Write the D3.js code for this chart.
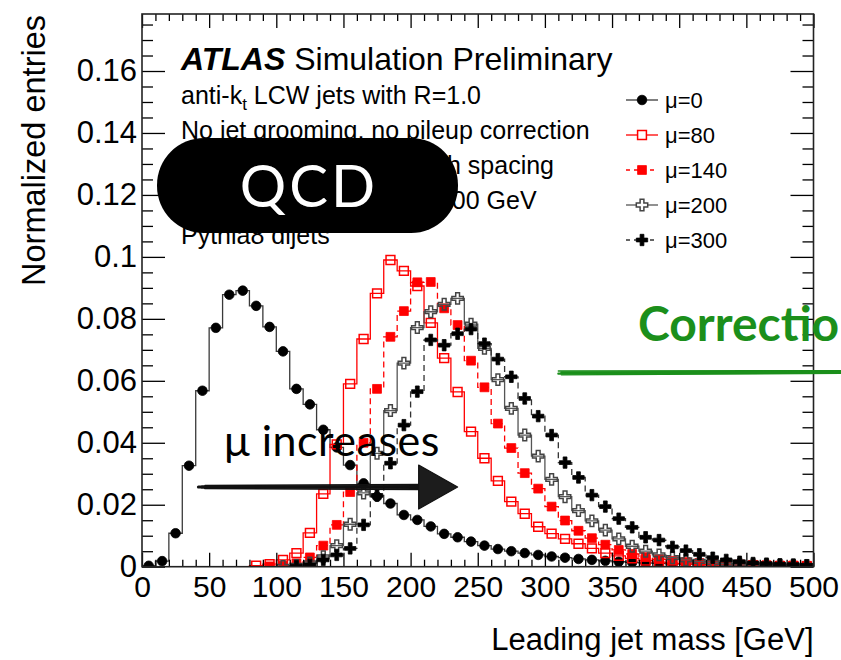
<!DOCTYPE html>
<html>
<head>
<meta charset="utf-8">
<script src="https://cdn.jsdelivr.net/npm/d3@7"></script>
<style>
  html, body { margin: 0; padding: 0; background: #fff; }
  svg { display: block; }
</style>
</head>
<body>
<svg id="chart" width="841" height="660"></svg>
<script>
// Leading jet mass, 10 GeV bins from 0 to 500 GeV (lower edges)
const binWidth = 10;
const binLowEdges = d3.range(0, 500, binWidth);

// Normalized entries per bin for each pileup condition
const mu0 = [0.0003, 0.0018, 0.0108, 0.0326, 0.0568, 0.0771, 0.0878, 0.0891, 0.0842, 0.0774,
             0.0695, 0.0574, 0.0524, 0.0442, 0.0385, 0.0328, 0.0269, 0.0226, 0.0204, 0.0167,
             0.0151, 0.0130, 0.0106, 0.0095, 0.0081, 0.0068, 0.0057, 0.0050, 0.0044, 0.0038,
             0.0033, 0.0029, 0.0025, 0.0022, 0.0019, 0.0016, 0.0014, 0.0012, 0.0011, 0.0009,
             0.0008, 0.0007, 0.0006, 0.0005, 0.0005, 0.0004, 0.0004, 0.0003, 0.0003, 0.0003];
const mu80 = [0, 0, 0, 0, 0, 0, 0, 0, 0.0003, 0.0008,
              0.0022, 0.0044, 0.0109, 0.0235, 0.0395, 0.0590, 0.0735, 0.0882, 0.0990, 0.0955,
              0.0906, 0.0787, 0.0673, 0.0564, 0.0436, 0.0350, 0.0277, 0.0210, 0.0171, 0.0129,
              0.0107, 0.0090, 0.0074, 0.0059, 0.0044, 0.0035, 0.0027, 0.0020, 0.0015, 0.0011,
              0.0009, 0.0007, 0.0005, 0.0004, 0.0003, 0.0003, 0.0002, 0.0002, 0.0002, 0.0001];
const mu140 = [0, 0, 0, 0, 0, 0, 0, 0, 0, 0.0001,
               0.0003, 0.0011, 0.0030, 0.0068, 0.0135, 0.0241, 0.0400, 0.0574, 0.0742, 0.0825,
               0.0918, 0.0919, 0.0834, 0.0780, 0.0665, 0.0579, 0.0462, 0.0383, 0.0302, 0.0252,
               0.0194, 0.0149, 0.0116, 0.0092, 0.0071, 0.0054, 0.0041, 0.0031, 0.0024, 0.0019,
               0.0015, 0.0012, 0.0010, 0.0008, 0.0007, 0.0006, 0.0005, 0.0004, 0.0004, 0.0003];
const mu200 = [0, 0, 0, 0, 0, 0, 0, 0, 0, 0,
               0.0001, 0.0004, 0.0012, 0.0032, 0.0068, 0.0137, 0.0238, 0.0366, 0.0504, 0.0657,
               0.0772, 0.0823, 0.0847, 0.0866, 0.0783, 0.0705, 0.0604, 0.0511, 0.0425, 0.0357,
               0.0282, 0.0226, 0.0181, 0.0148, 0.0118, 0.0090, 0.0066, 0.0050, 0.0038, 0.0029,
               0.0022, 0.0017, 0.0013, 0.0010, 0.0008, 0.0006, 0.0005, 0.0004, 0.0003, 0.0003];
const mu300 = [0, 0, 0, 0, 0, 0, 0, 0, 0, 0,
               0, 0.0002, 0.0006, 0.0022, 0.0038, 0.0059, 0.0135, 0.0230, 0.0334, 0.0457,
               0.0565, 0.0732, 0.0715, 0.0752, 0.0767, 0.0720, 0.0670, 0.0613, 0.0543, 0.0486,
               0.0425, 0.0336, 0.0288, 0.0231, 0.0194, 0.0155, 0.0127, 0.0095, 0.0086, 0.0064,
               0.0052, 0.0040, 0.0029, 0.0022, 0.0016, 0.0012, 0.0010, 0.0008, 0.0007, 0.0005];

const seriesLabels = ["μ=0", "μ=80", "μ=140", "μ=200", "μ=300"];

// Axis ticks and labels
const xMajorTicks = d3.range(0, 501, 50);
const xTickLabels = ["0", "50", "100", "150", "200", "250", "300", "350", "400", "450", "500"];
const yMajorTicks = [0, 0.02, 0.04, 0.06, 0.08, 0.10, 0.12, 0.14, 0.16];
const yTickLabels = ["0", "0.02", "0.04", "0.06", "0.08", "0.1", "0.12", "0.14", "0.16"];

const infoLines = [
  "anti-k|t| LCW jets with R=1.0",
  "No jet grooming, no pileup correction",
  "√s = 14 TeV, 25 ns bunch spacing",
  "|η| < 2, leading jet p_T > 300 GeV",
  "Pythia8 dijets"
];

// ---------------------------------------------------------------------
const svg = d3.select("#chart");
const frame = { left: 142, right: 813.5, top: 14, bottom: 566.7 };

const x = d3.scaleLinear().domain([0, 500]).range([frame.left, frame.right]);
const y = d3.scaleLinear().domain([0, 0.1784]).range([frame.bottom, frame.top]);

const AX_FONT = "'Liberation Sans', Arial, Helvetica, sans-serif";
const SLIDE_FONT = "Lato, 'Open Sans', sans-serif";

svg.append("rect").attr("width", 841).attr("height", 660).attr("fill", "#fff");

svg.append("clipPath").attr("id", "plotClip")
  .append("rect")
  .attr("x", frame.left).attr("y", frame.top)
  .attr("width", frame.right - frame.left).attr("height", frame.bottom - frame.top);

// ---------------- header text inside the frame ----------------
const header = svg.append("g").attr("font-family", AX_FONT).attr("fill", "#000");
const atlas = header.append("text").attr("x", 181).attr("y", 70).attr("font-size", 32);
atlas.append("tspan").attr("font-weight", "bold").attr("font-style", "italic").text("ATLAS");
atlas.append("tspan").text(" Simulation Preliminary");

const lineBaselines = [104, 139, 174, 209, 244];
infoLines.forEach((s, i) => {
  const t = header.append("text").attr("x", 181).attr("y", lineBaselines[i]).attr("font-size", 25);
  if (i === 0) {
    const parts = s.split("|");
    t.append("tspan").text(parts[0]);
    t.append("tspan").attr("font-size", 17).attr("dy", 6).text(parts[1]);
    t.append("tspan").attr("dy", -6).text(parts[2]);
  } else if (i === 3) {
    const parts = s.split("p_T");
    t.append("tspan").text(parts[0] + "p");
    t.append("tspan").attr("font-size", 17).attr("dy", 6).text("T");
    t.append("tspan").attr("dy", -6).text(parts[1]);
  } else {
    t.text(s);
  }
});

// ---------------- histograms ----------------
const series = [
  { label: seriesLabels[0], values: mu0,   color: "#000", line: "#3a3a3a", dash: null,  marker: "circle",  filled: true },
  { label: seriesLabels[1], values: mu80,  color: "#ff0000", line: "#ff0000", dash: null, marker: "square", filled: false },
  { label: seriesLabels[2], values: mu140, color: "#ff0000", line: "#ff0000", dash: "6,4", marker: "square", filled: true },
  { label: seriesLabels[3], values: mu200, color: "#444", line: "#555", dash: null, marker: "cross", filled: false },
  { label: seriesLabels[4], values: mu300, color: "#000", line: "#333", dash: "6,4", marker: "cross", filled: true }
];

const symbolFor = m => m === "circle" ? d3.symbol(d3.symbolCircle, 72)
                    : m === "square" ? d3.symbol(d3.symbolSquare, 78)
                    : d3.symbol(d3.symbolCross, 72);

const plot = svg.append("g").attr("clip-path", "url(#plotClip)");

series.forEach(s => {
  const first = s.values.findIndex(v => v > 0);
  const pts = [[binLowEdges[first], 0]];
  for (let i = first; i < s.values.length; i++) {
    pts.push([binLowEdges[i], s.values[i]]);
    pts.push([binLowEdges[i] + binWidth, s.values[i]]);
  }
  plot.append("path")
    .attr("d", d3.line().x(d => x(d[0])).y(d => y(d[1]))(pts))
    .attr("fill", "none")
    .attr("stroke", s.line)
    .attr("stroke-width", 1.3)
    .attr("stroke-dasharray", s.dash);

  const bins = binLowEdges.map((lo, i) => ({ c: lo + binWidth / 2, v: s.values[i] })).filter(d => d.v > 0);
  plot.append("g").selectAll("path")
    .data(bins)
    .join("path")
    .attr("transform", d => `translate(${x(d.c)},${y(d.v)})`)
    .attr("d", symbolFor(s.marker)())
    .attr("fill", s.filled ? s.color : "none")
    .attr("stroke", s.color)
    .attr("stroke-width", s.filled ? 0.8 : 1.5);
});

// ---------------- legend ----------------
const legend = svg.append("g").attr("font-family", AX_FONT);
series.forEach((s, i) => {
  const cy = 100 + i * 35;
  legend.append("line")
    .attr("x1", 626).attr("x2", 658).attr("y1", cy).attr("y2", cy)
    .attr("stroke", s.line).attr("stroke-width", 1.3)
    .attr("stroke-dasharray", s.dash ? "4,4" : null);
  legend.append("path")
    .attr("transform", `translate(642,${cy})`)
    .attr("d", symbolFor(s.marker)())
    .attr("fill", s.filled ? s.color : "#fff")
    .attr("stroke", s.color)
    .attr("stroke-width", s.filled ? 0.8 : 1.5);
  legend.append("text")
    .attr("x", 665).attr("y", cy + 8)
    .attr("font-size", 22)
    .text(s.label);
});

// ---------------- axes (ticks inside the frame) ----------------
const axes = svg.append("g").attr("font-family", AX_FONT);
const xMinor = d3.range(0, 501, 10).filter(v => v % 50 !== 0);
const yMinor = d3.range(0, 0.1784, 0.005).filter(v => Math.round(v * 1000) % 20 !== 0);

function styleAxis(g) {
  g.select(".domain").remove();
  g.selectAll(".tick line").attr("stroke", "#000").attr("stroke-width", 1.3);
}

axes.append("g").attr("transform", `translate(0,${frame.bottom})`)
  .call(d3.axisBottom(x).tickValues(xMajorTicks).tickSize(-14).tickPadding(9)
        .tickFormat((d, i) => xTickLabels[i]))
  .call(styleAxis)
  .call(g => g.selectAll("text").attr("font-size", 30).attr("fill", "#000"));
axes.append("g").attr("transform", `translate(0,${frame.bottom})`)
  .call(d3.axisBottom(x).tickValues(xMinor).tickSize(-7).tickFormat(""))
  .call(styleAxis);
axes.append("g").attr("transform", `translate(0,${frame.top})`)
  .call(d3.axisTop(x).tickValues(xMajorTicks).tickSize(-14).tickFormat(""))
  .call(styleAxis);
axes.append("g").attr("transform", `translate(0,${frame.top})`)
  .call(d3.axisTop(x).tickValues(xMinor).tickSize(-7).tickFormat(""))
  .call(styleAxis);

axes.append("g").attr("transform", `translate(${frame.left},0)`)
  .call(d3.axisLeft(y).tickValues(yMajorTicks).tickSize(-23).tickPadding(5)
        .tickFormat((d, i) => yTickLabels[i]))
  .call(styleAxis)
  .call(g => g.selectAll("text").attr("font-size", 31).attr("fill", "#000"));
axes.append("g").attr("transform", `translate(${frame.left},0)`)
  .call(d3.axisLeft(y).tickValues(yMinor).tickSize(-11).tickFormat(""))
  .call(styleAxis);
axes.append("g").attr("transform", `translate(${frame.right},0)`)
  .call(d3.axisRight(y).tickValues(yMajorTicks).tickSize(-23).tickFormat(""))
  .call(styleAxis);
axes.append("g").attr("transform", `translate(${frame.right},0)`)
  .call(d3.axisRight(y).tickValues(yMinor).tickSize(-11).tickFormat(""))
  .call(styleAxis);

svg.append("rect")
  .attr("x", frame.left).attr("y", frame.top)
  .attr("width", frame.right - frame.left).attr("height", frame.bottom - frame.top)
  .attr("fill", "none").attr("stroke", "#222").attr("stroke-width", 1.6);

// axis titles
svg.append("text")
  .attr("font-family", AX_FONT).attr("font-size", 31)
  .attr("text-anchor", "end")
  .attr("x", frame.right).attr("y", 650)
  .text("Leading jet mass [GeV]");
svg.append("text")
  .attr("font-family", AX_FONT).attr("font-size", 32.5)
  .attr("text-anchor", "end")
  .attr("transform", "translate(45,15) rotate(-90)")
  .text("Normalized entries");

// ---------------- slide annotations ----------------
const note = svg.append("g");

// QCD badge
note.append("rect")
  .attr("x", 157).attr("y", 138).attr("width", 301).attr("height", 95)
  .attr("rx", 47).attr("ry", 47).attr("fill", "#000");
note.append("text")
  .attr("font-family", SLIDE_FONT).attr("font-size", 58)
  .attr("letter-spacing", 3)
  .attr("text-anchor", "middle")
  .attr("x", 309).attr("y", 207)
  .attr("fill", "#fff")
  .text("QCD");

// "μ increases" with hand-drawn arrow
note.append("text")
  .attr("font-family", SLIDE_FONT).attr("font-size", 43)
  .attr("letter-spacing", 0.5)
  .attr("x", 224).attr("y", 456)
  .attr("fill", "#000")
  .text("μ increases");

const arrowY = 0.0257, arrowFrom = 42, arrowNeck = 206, arrowTip = 235, headHalf = 0.0071;
const strokeOffsets = [-2.2, -1.1, 0, 1.0, 2.1];
strokeOffsets.forEach((o, i) => {
  note.append("line")
    .attr("x1", x(arrowFrom) + Math.abs(o) * 3).attr("x2", x(arrowNeck) + 2)
    .attr("y1", y(arrowY) + o * 0.7).attr("y2", y(arrowY) + o * 1.2)
    .attr("stroke", "#111").attr("stroke-width", i === 2 ? 3 : 1.4)
    .attr("stroke-linecap", "round");
});
note.append("path")
  .attr("d", `M${x(arrowNeck)},${y(arrowY + headHalf)} L${x(arrowTip)},${y(arrowY)} L${x(arrowNeck)},${y(arrowY - headHalf)} Z`)
  .attr("fill", "#1c1c1c").attr("stroke", "#111").attr("stroke-width", 1.2)
  .attr("stroke-linejoin", "round");

// green "Correction" note with a marker stroke
const green = "#1b8f1b";
note.append("text")
  .attr("font-family", SLIDE_FONT).attr("font-weight", "bold").attr("font-size", 48)
  .attr("x", 638).attr("y", 341)
  .attr("fill", green)
  .text("Correction");
const greenY = 0.0625;
[-2.0, -0.7, 0.6, 1.8].forEach((o, i) => {
  note.append("line")
    .attr("x1", x(310) + (i % 2) * 3).attr("x2", 845)
    .attr("y1", y(greenY) + o).attr("y2", y(greenY) + o * 0.7 - 1)
    .attr("stroke", green).attr("stroke-width", i === 1 || i === 2 ? 2.2 : 1.4)
    .attr("stroke-linecap", "round");
});
</script>
</body>
</html>
